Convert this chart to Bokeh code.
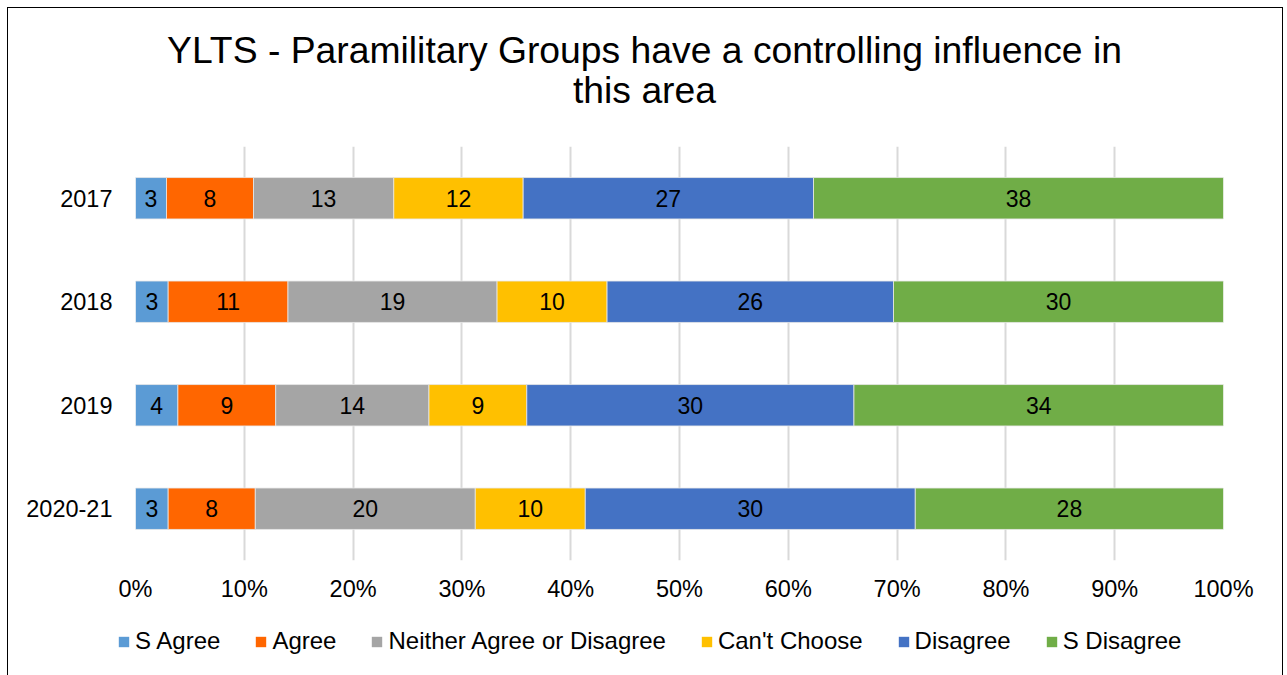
from bokeh.plotting import figure
from bokeh.layouts import column
from bokeh.models import (ColumnDataSource, LabelSet, Legend, LegendItem,
                          NumeralTickFormatter, FixedTicker, FactorRange, Range1d)
from bokeh.core.properties import value
from bokeh.embed import file_html
from bokeh.resources import INLINE

# ---- data ----
years = ["2017", "2018", "2019", "2020-21"]
series = ["S Agree", "Agree", "Neither Agree or Disagree", "Can't Choose", "Disagree", "S Disagree"]
s_agree = [2.85, 3.0, 3.9, 3.0]
agree = [8.0, 11.0, 9.0, 8.0]
neither = [12.9, 19.2, 14.1, 20.2]
cant_choose = [11.9, 10.1, 9.0, 10.1]
disagree = [26.7, 26.3, 30.1, 30.3]
s_disagree = [37.7, 30.3, 34.0, 28.3]
colors = ["#5B9BD5", "#FF6600", "#A5A5A5", "#FFC000", "#4472C4", "#70AD47"]
x_ticks = [0, 0.1, 0.2, 0.3, 0.4, 0.5, 0.6, 0.7, 0.8, 0.9, 1.0]
title_lines = ["YLTS - Paramilitary Groups have a controlling influence in", "this area"]

all_series = [s_agree, agree, neither, cant_choose, disagree, s_disagree]
FONT = "Liberation Sans"
W = 1274


def bare(fig):
    fig.outline_line_color = None
    fig.grid.visible = False
    fig.frame_align = False
    return fig


# ---- title strip ----
TH = 138
pt = bare(figure(width=W, height=TH, output_backend="svg", toolbar_location=None,
                 x_range=Range1d(0, W), y_range=Range1d(0, TH),
                 x_axis_location=None, y_axis_location=None,
                 min_border_left=0, min_border_right=0, min_border_top=0, min_border_bottom=0))
pt.text(x=[W / 2 - 1, W / 2 - 1], y=[TH - 41, TH - 81], text=title_lines,
        text_align="center", text_baseline="alphabetic", text_font_size="37.3px",
        text_font=value(FONT), text_color="#000000")

# ---- chart ----
p = figure(width=W, height=464, output_backend="svg", toolbar_location=None,
           y_range=FactorRange(*reversed(years)), x_range=Range1d(0, 1),
           min_border_left=127, min_border_right=59, min_border_top=0, min_border_bottom=50)
p.outline_line_color = None
p.frame_align = False

totals = [sum(s[i] for s in all_series) for i in range(len(years))]
cum = [0.0] * len(years)
for name, vals, col in zip(series, all_series, colors):
    left = [cum[i] / totals[i] for i in range(len(years))]
    right = [(cum[i] + vals[i]) / totals[i] for i in range(len(years))]
    cum = [cum[i] + vals[i] for i in range(len(years))]
    src = ColumnDataSource(dict(y=years, left=left, right=right,
                                mid=[(l + r) / 2 for l, r in zip(left, right)],
                                lab=[str(int(round(v))) for v in vals]))
    p.hbar(y="y", left="left", right="right", height=0.4, source=src,
           fill_color=col, line_color="#e8e8e8", line_width=0.8)
    p.add_layout(LabelSet(x="mid", y="y", text="lab", source=src, text_align="center",
                          text_baseline="middle", text_font_size="23px", text_font=value(FONT),
                          text_color="#000000"))

p.xaxis.ticker = FixedTicker(ticks=x_ticks)
p.xaxis.formatter = NumeralTickFormatter(format="0%")
for ax in (p.xaxis, p.yaxis):
    ax.axis_line_color = None
    ax.major_tick_line_color = None
    ax.minor_tick_line_color = None
    ax.major_tick_out = 0
    ax.major_tick_in = 0
    ax.minor_tick_out = 0
    ax.major_label_text_font_size = "23.5px"
    ax.major_label_text_font = FONT
    ax.major_label_text_color = "#000000"
p.xaxis.major_label_standoff = 15
p.yaxis.major_label_standoff = 23

p.xgrid.grid_line_color = "#D9D9D9"
p.xgrid.grid_line_width = 2
p.ygrid.grid_line_color = None

# ---- legend strip ----
pl = bare(figure(width=W, height=65, output_backend="svg", toolbar_location=None,
                 x_range=Range1d(0, 1), y_range=Range1d(0, 1),
                 x_axis_location=None, y_axis_location=None,
                 min_border_left=0, min_border_right=0, min_border_top=0, min_border_bottom=0))
items = []
for name, col in zip(series, colors):
    # legend swatch carriers, kept outside the visible range of the strip
    r = pl.hbar(y=[-5], left=[0], right=[1], height=0.4, fill_color=col, line_color=None)
    items.append(LegendItem(label=name, renderers=[r]))
legend = Legend(items=items, orientation="horizontal", location=(109, 20),
                glyph_width=13, glyph_height=13, label_standoff=5, spacing=34,
                label_text_font_size="24px", label_text_font=FONT, label_text_color="#000000",
                border_line_color=None, background_fill_alpha=0, padding=4, margin=0)
pl.add_layout(legend, "center")

layout = column(pt, p, pl, spacing=0)
layout.margin = (8, 0, 0, 8)
layout.styles = {"outline": "1.5px solid black"}

open("out.html", "w").write(file_html(layout, INLINE))
